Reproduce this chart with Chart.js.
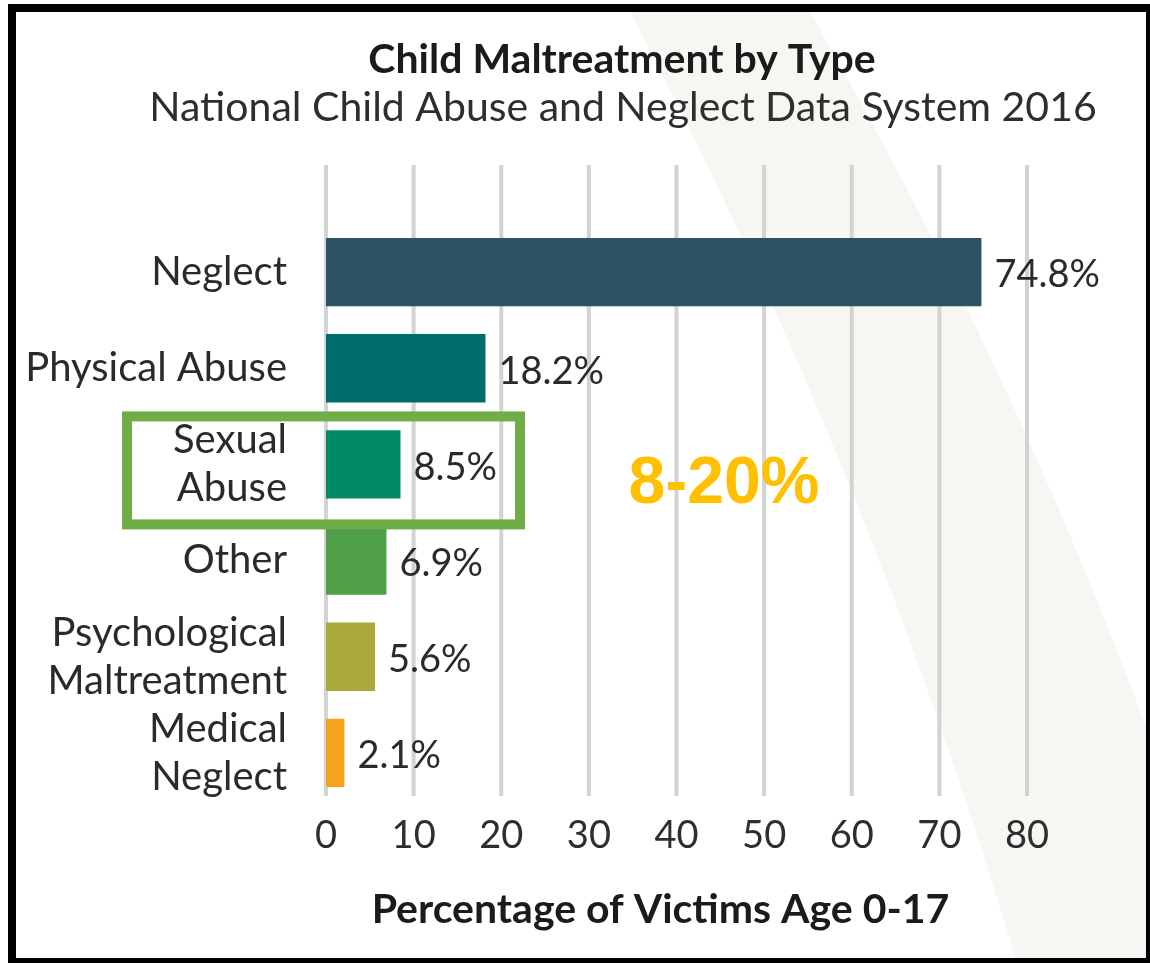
<!DOCTYPE html>
<html>
<head>
<meta charset="utf-8">
<script src="https://cdn.jsdelivr.net/npm/chart.js@4/dist/chart.umd.min.js"></script>
<style>
  html, body { margin: 0; padding: 0; background: #fff; }
</style>
</head>
<body>
<canvas id="chart" width="1150" height="963"></canvas>
<script>
const categories = [
  'Neglect',
  'Physical Abuse',
  ['Sexual', 'Abuse'],
  'Other',
  ['Psychological', 'Maltreatment'],
  ['Medical', 'Neglect'],
]
const percentages = [74.8, 18.2, 8.5, 6.9, 5.6, 2.1]
const barColors = ['#2c5363', '#006b6b', '#008a64', '#4f9e48', '#a9aa3a', '#f5a31f']
const xTicks = [0, 10, 20, 30, 40, 50, 60, 70, 80]
const chartTitle = 'Child Maltreatment by Type'
const chartSubtitle = 'National Child Abuse and Neglect Data System 2016'
const axisTitle = 'Percentage of Victims Age 0-17'
const highlightText = '8-20%'

const FONT = 'Lato, "Open Sans", sans-serif'

// white page with the pale diagonal band behind the plot
const backdrop = {
  id: 'backdrop',
  beforeDraw(chart) {
    const { ctx, width, height } = chart
    ctx.save()
    ctx.fillStyle = '#fff'
    ctx.fillRect(0, 0, width, height)
    ctx.fillStyle = '#f7f6f3'
    ctx.beginPath()
    ctx.moveTo(630, 12)
    ctx.quadraticCurveTo(870, 470, 1017, height)
    ctx.lineTo(width, height)
    ctx.lineTo(width, 737)
    ctx.quadraticCurveTo(1010, 360, 810, 12)
    ctx.closePath()
    ctx.fill()
    ctx.restore()
  }
}

// grid lines run higher than the first bar, so they are drawn here
const gridLines = {
  id: 'gridLines',
  beforeDatasetsDraw(chart) {
    const { ctx, chartArea, scales: { x } } = chart
    ctx.save()
    ctx.strokeStyle = '#d3d3d3'
    ctx.lineWidth = 4
    x.ticks.forEach((t) => {
      const px = x.getPixelForValue(t.value)
      ctx.beginPath()
      ctx.moveTo(px, chartArea.top - 59)
      ctx.lineTo(px, chartArea.bottom - 5)
      ctx.stroke()
    })
    ctx.restore()
  }
}

const valueLabels = {
  id: 'valueLabels',
  afterDatasetsDraw(chart) {
    const { ctx } = chart
    ctx.save()
    ctx.font = '38px ' + FONT
    ctx.fillStyle = '#2a2a2a'
    ctx.textBaseline = 'middle'
    chart.getDatasetMeta(0).data.forEach((bar, i) => {
      ctx.fillText(percentages[i].toFixed(1) + '%', bar.x + 13, bar.y + 3)
    })
    ctx.restore()
  }
}

const overlay = {
  id: 'overlay',
  afterDraw(chart) {
    const { ctx, chartArea, width, height, scales: { y } } = chart
    ctx.save()
    ctx.textAlign = 'center'
    ctx.textBaseline = 'middle'

    // titles sit a bit left of the plot centre
    ctx.fillStyle = '#1b1b1b'
    ctx.font = 'bold 41px ' + FONT
    ctx.fillText(chartTitle, 622, 60)
    ctx.fillStyle = '#2e2e2e'
    ctx.font = '41px ' + FONT
    ctx.fillText(chartSubtitle, 623, 108)

    ctx.fillStyle = '#1b1b1b'
    ctx.font = 'bold 41px ' + FONT
    ctx.fillText(axisTitle, (chartArea.left + chartArea.right) / 2 - 16, 910)

    // green box round the sexual abuse row
    const cy = y.getPixelForValue(2)
    ctx.strokeStyle = '#70ad47'
    ctx.lineWidth = 10
    ctx.strokeRect(chartArea.left - 199, cy - 48, 393, 108)

    ctx.font = 'bold 66px "Liberation Sans", Arial, sans-serif'
    ctx.fillStyle = '#ffc000'
    ctx.fillText(highlightText, 724, cy + 20)

    // black frame
    ctx.fillStyle = '#000'
    ctx.fillRect(8, 4, width - 8, 8)
    ctx.fillRect(8, 4, 8, height - 4)
    ctx.fillRect(width - 4, 4, 4, height - 4)
    ctx.fillRect(8, height - 5, width - 8, 5)
    ctx.restore()
  }
}

const ctx = document.getElementById('chart').getContext('2d')

new Chart(ctx, {
  type: 'bar',
  data: {
    labels: categories,
    datasets: [{
      data: percentages,
      backgroundColor: barColors,
      borderWidth: 0,
      categoryPercentage: 1,
      barPercentage: 0.71,
    }]
  },
  options: {
    indexAxis: 'y',
    responsive: false,
    animation: false,
    devicePixelRatio: 1,
    layout: { padding: { left: 16, right: 123, top: 224, bottom: 0 } },
    plugins: {
      legend: { display: false },
      tooltip: { enabled: false },
    },
    scales: {
      x: {
        type: 'linear',
        min: 0,
        max: 80,
        afterBuildTicks: (scale) => { scale.ticks = xTicks.map((v) => ({ value: v })) },
        afterFit: (scale) => { scale.height = 162 },
        grid: { display: false, drawTicks: false },
        border: { display: false },
        ticks: {
          padding: 12,
          color: '#2e2e2e',
          font: { family: FONT, size: 38, lineHeight: 1.2 },
        },
      },
      y: {
        afterFit: (scale) => { scale.width = 310 },
        grid: { display: false, drawTicks: false },
        border: { display: false },
        ticks: {
          autoSkip: false,
          padding: 39,
          color: '#2a2a2a',
          font: { family: FONT, size: 40, lineHeight: 1.2 },
        },
      },
    },
  },
  plugins: [backdrop, gridLines, valueLabels, overlay],
})
</script>
</body>
</html>
